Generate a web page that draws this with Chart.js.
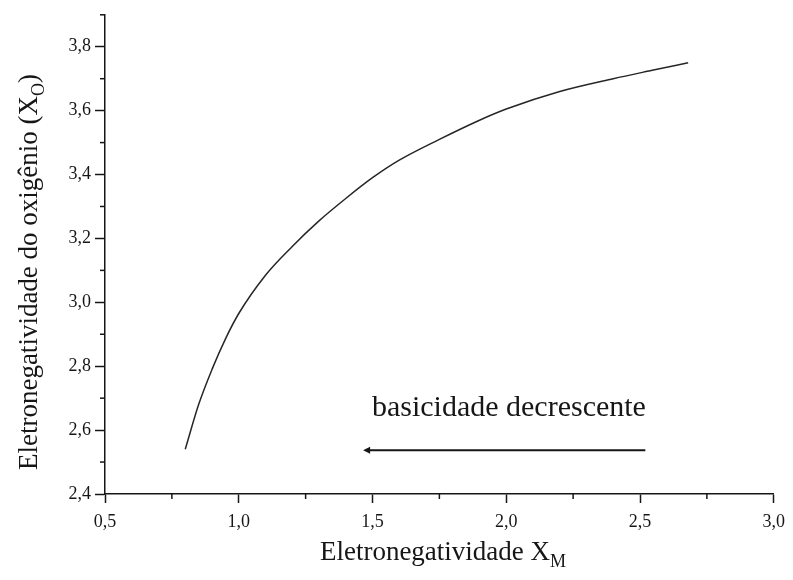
<!DOCTYPE html>
<html>
<head>
<meta charset="utf-8">
<script src="https://cdn.jsdelivr.net/npm/chart.js@4.4.1/dist/chart.umd.min.js"></script>
<style>
  body { margin: 0; background: #fff; }
  #wrap { width: 793px; height: 580px; position: relative; }
</style>
</head>
<body>
<div id="wrap"><canvas id="chart"></canvas></div>
<script>
// curve: electronegativity of the metal vs. of the oxygen
const xmValues = [0.80, 0.85, 0.90, 0.95, 1.00, 1.10, 1.20, 1.30, 1.40, 1.50, 1.60, 1.75, 1.90, 2.00, 2.20, 2.40, 2.55, 2.68];
const xoValues = [2.54, 2.68, 2.79, 2.885, 2.965, 3.085, 3.175, 3.255, 3.325, 3.39, 3.445, 3.51, 3.57, 3.605, 3.66, 3.70, 3.727, 3.75];

// axis ranges and minor ticks
const xRange = [0.5, 3.0];
const yRange = [2.4, 3.9];
const xMinorTicks = [0.75, 1.25, 1.75, 2.25, 2.75];
const yMinorTicks = [2.5, 2.7, 2.9, 3.1, 3.3, 3.5, 3.7, 3.9];

// arrow "basicidade decrescente" (in data units)
const arrowFrom = [2.52, 2.537];
const arrowTo = [1.465, 2.537];
const arrowLabel = 'basicidade decrescente';
const arrowLabelAt = [2.01, 2.668];

const serif = '"Liberation Serif", "DejaVu Serif", serif';
const ink = '#161616';

const fmt = v => Number(v).toFixed(1).replace('.', ',');

// draws text with a subscript part, centred on (0,0) of current transform
function drawSubText(ctx, main, sub, tail, size) {
  const subSize = Math.round(size * 0.66);
  ctx.font = `${size}px ${serif}`;
  const w1 = ctx.measureText(main).width;
  const w3 = ctx.measureText(tail).width;
  ctx.font = `${subSize}px ${serif}`;
  const w2 = ctx.measureText(sub).width;
  let x = -(w1 + w2 + w3) / 2;
  ctx.textAlign = 'left';
  ctx.textBaseline = 'middle';
  ctx.font = `${size}px ${serif}`;
  ctx.fillText(main, x, 0);
  x += w1;
  ctx.font = `${subSize}px ${serif}`;
  ctx.fillText(sub, x, size * 0.36);
  x += w2;
  ctx.font = `${size}px ${serif}`;
  ctx.fillText(tail, x, 0);
}

const extras = {
  id: 'extras',
  afterDraw(chart) {
    const { ctx, chartArea, scales } = chart;
    const xs = scales.x, ys = scales.y;
    ctx.save();
    ctx.strokeStyle = ink;
    ctx.fillStyle = ink;
    ctx.lineWidth = 1.5;

    // minor ticks
    xMinorTicks.forEach(v => {
      const px = xs.getPixelForValue(v);
      ctx.beginPath();
      ctx.moveTo(px, chartArea.bottom);
      ctx.lineTo(px, chartArea.bottom + 5);
      ctx.stroke();
    });
    yMinorTicks.forEach(v => {
      const py = ys.getPixelForValue(v);
      ctx.beginPath();
      ctx.moveTo(chartArea.left, py);
      ctx.lineTo(chartArea.left - 5, py);
      ctx.stroke();
    });

    // arrow
    const ax1 = xs.getPixelForValue(arrowFrom[0]), ay1 = ys.getPixelForValue(arrowFrom[1]);
    const ax2 = xs.getPixelForValue(arrowTo[0]), ay2 = ys.getPixelForValue(arrowTo[1]);
    ctx.lineWidth = 2;
    ctx.beginPath();
    ctx.moveTo(ax1, ay1);
    ctx.lineTo(ax2 + 4, ay2);
    ctx.stroke();
    ctx.beginPath();
    ctx.moveTo(ax2, ay2);
    ctx.lineTo(ax2 + 7, ay2 - 3.5);
    ctx.lineTo(ax2 + 7, ay2 + 3.5);
    ctx.closePath();
    ctx.fill();

    // arrow label
    ctx.font = `30px ${serif}`;
    ctx.textAlign = 'center';
    ctx.textBaseline = 'middle';
    ctx.fillText(arrowLabel, xs.getPixelForValue(arrowLabelAt[0]), ys.getPixelForValue(arrowLabelAt[1]));

    // axis titles with subscripts
    ctx.save();
    ctx.translate(443, 553);
    drawSubText(ctx, 'Eletronegatividade X', 'M', '', 27);
    ctx.restore();

    ctx.save();
    ctx.translate(30, 272);
    ctx.rotate(-Math.PI / 2);
    drawSubText(ctx, 'Eletronegatividade do oxigênio (X', 'O', ')', 27);
    ctx.restore();

    ctx.restore();
  }
};

new Chart(document.getElementById('chart'), {
  type: 'scatter',
  data: {
    datasets: [{
      label: 'XO',
      data: xmValues.map((x, i) => ({ x, y: xoValues[i] })),
      showLine: true,
      borderColor: '#262626',
      borderWidth: 1.5,
      pointRadius: 0,
      cubicInterpolationMode: 'monotone',
      fill: false
    }]
  },
  options: {
    responsive: true,
    maintainAspectRatio: false,
    animation: false,
    layout: { padding: { left: 0, top: 12, right: 14, bottom: 0 } },
    plugins: {
      legend: { display: false },
      tooltip: { enabled: false }
    },
    scales: {
      x: {
        type: 'linear',
        min: xRange[0],
        max: xRange[1],
        afterFit: s => { s.height = 86; },
        border: { color: ink, width: 1.5 },
        grid: { drawOnChartArea: false, tickLength: 9, color: ink, tickWidth: 1.5 },
        ticks: {
          stepSize: 0.5,
          padding: 8,
          color: ink,
          font: { family: serif, size: 18 },
          callback: fmt
        }
      },
      y: {
        type: 'linear',
        min: yRange[0],
        max: yRange[1],
        afterFit: s => { s.width = 105; },
        border: { color: ink, width: 1.5 },
        grid: { drawOnChartArea: false, tickLength: 10, color: ink, tickWidth: 1.5 },
        ticks: {
          stepSize: 0.2,
          includeBounds: false,
          padding: 4,
          color: ink,
          font: { family: serif, size: 18 },
          callback: fmt
        }
      }
    }
  },
  plugins: [extras]
});
</script>
</body>
</html>
